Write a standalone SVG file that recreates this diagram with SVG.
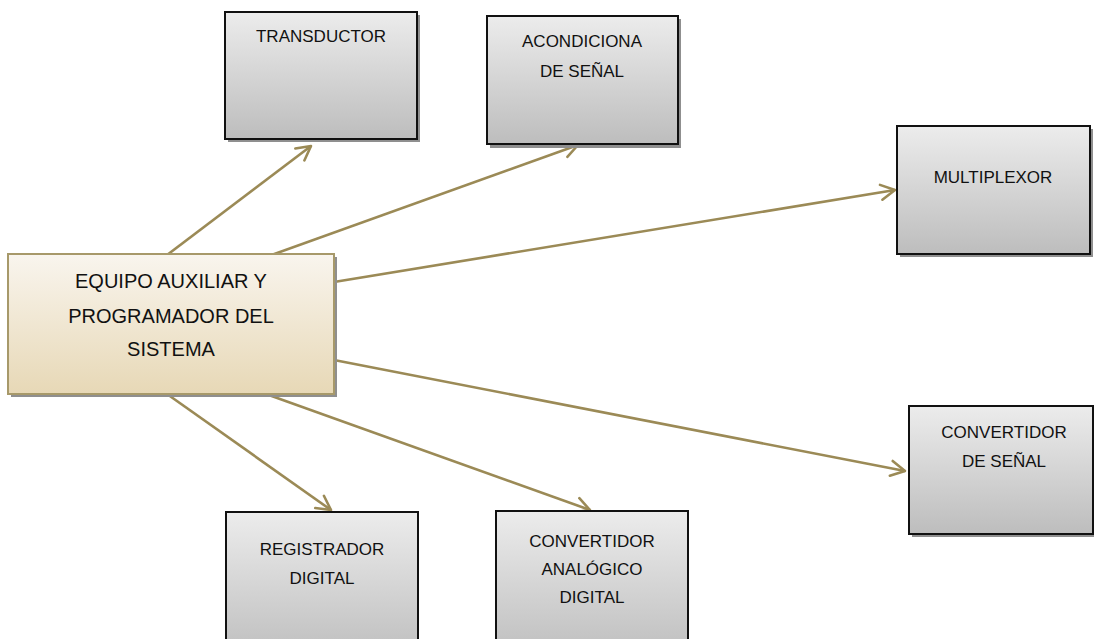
<svg xmlns="http://www.w3.org/2000/svg" width="1094" height="639" viewBox="0 0 1094 639">
<defs>
<linearGradient id="g" x1="0" y1="0" x2="0" y2="1"><stop offset="0" stop-color="#ececec"/><stop offset="1" stop-color="#bdbdbd"/></linearGradient>
<linearGradient id="gm" x1="0" y1="0" x2="0" y2="1"><stop offset="0" stop-color="#f9f5ee"/><stop offset="1" stop-color="#e7d8b6"/></linearGradient>
<marker id="ah" markerUnits="userSpaceOnUse" markerWidth="22" markerHeight="22" refX="15" refY="9" orient="auto" overflow="visible"><path d="M1,1.5 L15,9 L1,16.5" fill="none" stroke="#9b8a56" stroke-width="2.6" stroke-linecap="round" stroke-linejoin="round"/></marker>
</defs>
<style>
.box{fill:url(#g);stroke:#111;stroke-width:2}
.sh{fill:#8f8f8f}
.main{fill:url(#gm);stroke:#a7996a;stroke-width:2}
.t{font-family:"Liberation Sans",Arial,sans-serif;font-size:17px;fill:#111;text-anchor:middle}
.tm{font-family:"Liberation Sans",Arial,sans-serif;font-size:20px;fill:#111;text-anchor:middle}
.c{stroke:#9b8a56;stroke-width:2.6;fill:none;marker-end:url(#ah)}
</style>
<rect width="1094" height="639" fill="#fff"/>
<g id="connectors">
<line class="c" x1="167" y1="255" x2="311" y2="146"/>
<line class="c" x1="266" y1="257" x2="578" y2="145"/>
<line class="c" x1="334" y1="282" x2="895" y2="190"/>
<line class="c" x1="334" y1="360" x2="905" y2="471"/>
<line class="c" x1="167" y1="394" x2="331" y2="510"/>
<line class="c" x1="266" y1="394" x2="590" y2="510"/>
</g>
<g id="main">
<rect class="sh" x="11" y="257" width="326" height="140"/>
<rect class="main" x="8" y="254" width="326" height="140"/>
<text class="tm" x="171" y="288">EQUIPO AUXILIAR Y</text>
<text class="tm" x="171" y="323">PROGRAMADOR DEL</text>
<text class="tm" x="171" y="356">SISTEMA</text>
</g>
<g id="transductor">
<rect class="sh" x="228" y="15" width="192" height="127"/>
<rect class="box" x="225" y="12" width="192" height="127"/>
<text class="t" x="321" y="42">TRANSDUCTOR</text>
</g>
<g id="acondiciona">
<rect class="sh" x="490" y="19" width="191" height="129"/>
<rect class="box" x="487" y="16" width="191" height="128"/>
<text class="t" x="582" y="47">ACONDICIONA</text>
<text class="t" x="582" y="77">DE SEÑAL</text>
</g>
<g id="multiplexor">
<rect class="sh" x="900" y="129" width="193" height="128"/>
<rect class="box" x="897" y="126" width="193" height="128"/>
<text class="t" x="993" y="183">MULTIPLEXOR</text>
</g>
<g id="convertidor-senal">
<rect class="sh" x="912" y="409" width="190" height="128"/>
<rect class="box" x="909" y="406" width="184" height="128"/>
<text class="t" x="1004" y="438">CONVERTIDOR</text>
<text class="t" x="1004" y="467">DE SEÑAL</text>
</g>
<g id="registrador">
<rect class="box" x="226" y="512" width="192" height="150"/>
<text class="t" x="322" y="555">REGISTRADOR</text>
<text class="t" x="322" y="584">DIGITAL</text>
</g>
<g id="convertidor-ad">
<rect class="box" x="496" y="511" width="192" height="150"/>
<text class="t" x="592" y="547">CONVERTIDOR</text>
<text class="t" x="592" y="575">ANALÓGICO</text>
<text class="t" x="592" y="603">DIGITAL</text>
</g>
</svg>
